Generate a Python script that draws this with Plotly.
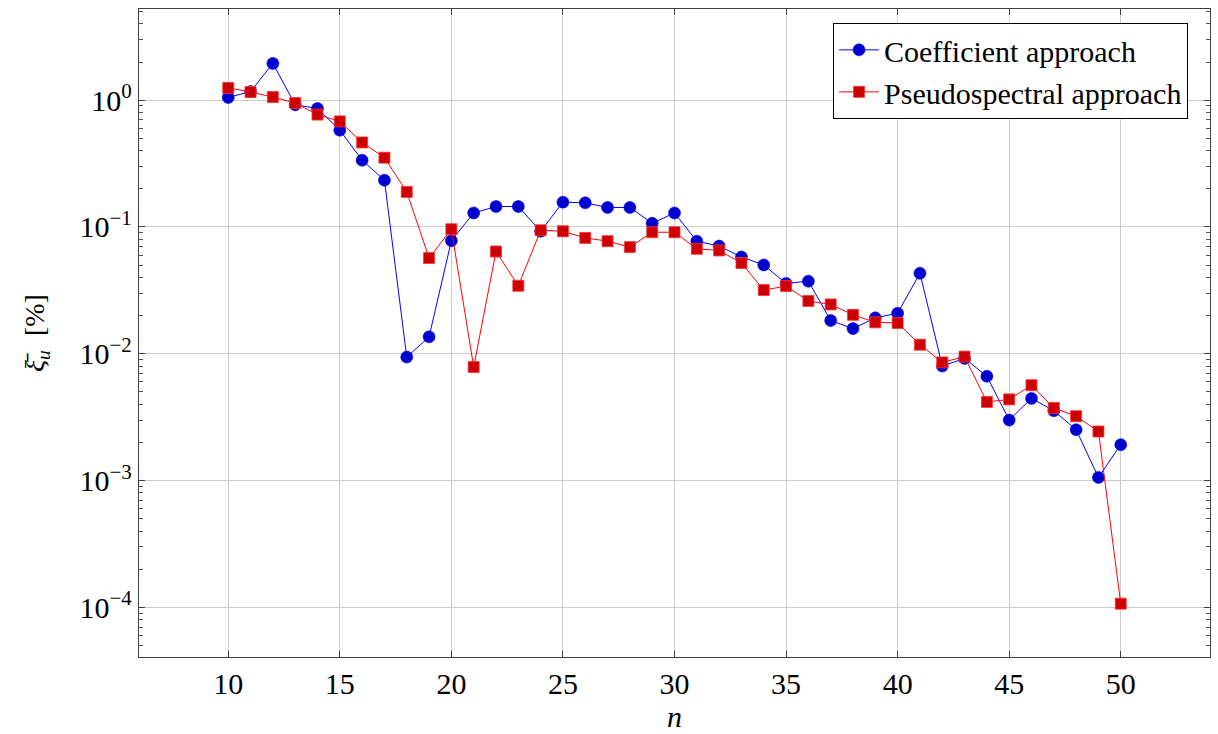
import plotly.graph_objects as go

n = list(range(10, 51))

coefficient = [1.05, 1.17, 1.95, 0.92, 0.86, 0.58, 0.336, 0.234, 0.00942, 0.0136,
               0.078, 0.129, 0.145, 0.145, 0.0925, 0.157, 0.155, 0.1425, 0.1425, 0.107,
               0.129, 0.0773, 0.0707, 0.058, 0.0502, 0.0359, 0.0374, 0.0183, 0.0158, 0.0192,
               0.0209, 0.0432, 0.0080, 0.0092, 0.00665, 0.0030, 0.00445, 0.00356, 0.00252, 0.00106,
               0.00192]

pseudospectral = [1.25, 1.16, 1.06, 0.95, 0.77, 0.68, 0.464, 0.352, 0.189, 0.0569,
                  0.096, 0.00787, 0.0641, 0.0344, 0.0942, 0.0925, 0.082, 0.0773, 0.0694, 0.0909,
                  0.0909, 0.0673, 0.0653, 0.052, 0.0318, 0.0342, 0.0261, 0.0245, 0.0203, 0.0177,
                  0.0175, 0.0118, 0.00855, 0.0095, 0.00417, 0.00437, 0.00565, 0.00374, 0.00322, 0.00244,
                  0.000107]

x_ticks = [10, 15, 20, 25, 30, 35, 40, 45, 50]
y_tickvals = [1, 0.1, 0.01, 0.001, 0.0001]
y_ticktext = ["10<sup>0</sup>", "10<sup>\u22121</sup>", "10<sup>\u22122</sup>",
              "10<sup>\u22123</sup>", "10<sup>\u22124</sup>"]
y_minor_ticks = [m * 10.0 ** e for e in range(-5, 1) for m in range(2, 10)]

FONT = "Liberation Serif"

fig = go.Figure()
fig.add_trace(go.Scatter(
    x=n, y=coefficient, mode="lines+markers", name="Coefficient approach",
    line=dict(color="#0000ff", width=1),
    marker=dict(symbol="circle", size=12, color="#0000cc",
                line=dict(color="#0000ff", width=0.6)),
))
fig.add_trace(go.Scatter(
    x=n, y=pseudospectral, mode="lines+markers", name="Pseudospectral approach",
    line=dict(color="#ff0000", width=1),
    marker=dict(symbol="square", size=11, color="#cc0000",
                line=dict(color="#ff3333", width=0.8)),
))

axis_common = dict(
    showline=True, linecolor="#404040", linewidth=1.3, mirror="ticks",
    ticks="inside", ticklen=6, tickcolor="#404040", tickwidth=1,
    showgrid=True, gridcolor="#cccccc", gridwidth=1, zeroline=False,
    tickfont=dict(family=FONT, size=30, color="black"),
)

fig.update_xaxes(
    range=[6, 54], tickvals=x_ticks,
    title=dict(text="<i>n</i>", font=dict(family=FONT, size=30, color="black"), standoff=6),
    **axis_common,
)
fig.update_yaxes(
    type="log", range=[-4.391, 0.719],
    tickvals=y_tickvals, ticktext=y_ticktext,
    minor=dict(tickmode="array", tickvals=y_minor_ticks, ticks="inside", ticklen=4,
               tickcolor="#555555", tickwidth=1, showgrid=False),
    title=dict(text="<i>\u03be\u0304</i><sub><i>u</i></sub>  [%]",
               font=dict(family=FONT, size=28, color="black"), standoff=26),
    **axis_common,
)

fig.update_layout(
    width=1218, height=734,
    margin=dict(l=139, r=7, t=9, b=71),
    paper_bgcolor="white", plot_bgcolor="white",
    showlegend=True,
    legend=dict(
        x=0.9795, y=0.9786, xanchor="right", yanchor="top",
        bgcolor="white", bordercolor="black", borderwidth=1,
        font=dict(family=FONT, size=30, color="black"),
        tracegroupgap=0, itemwidth=40,
    ),
)

fig.write_html("out.html")
